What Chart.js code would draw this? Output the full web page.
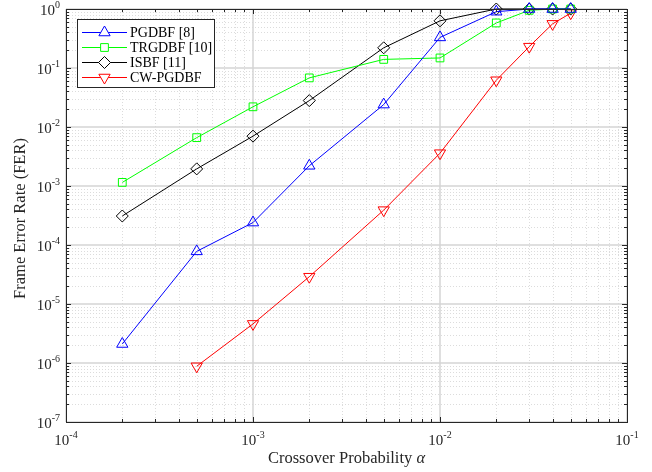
<!DOCTYPE html>
<html lang="en">
<head>
<meta charset="UTF-8">
<title>FER vs crossover probability</title>
<script src="https://cdn.jsdelivr.net/npm/chart.js"></script>
<style>
  body { margin: 0; background: #fff; }
  canvas { display: block; }
</style>
</head>
<body>
<canvas id="ferChart" width="652" height="472"></canvas>
<script>
// crossover probabilities (x axis)
const alphas = [2e-4, 5e-4, 1e-3, 2e-3, 5e-3, 1e-2, 2e-2, 3e-2, 4e-2, 5e-2];

// frame error rate per decoder
const pgdbf   = [2.1e-6, 7.8e-5, 2.4e-4, 2.2e-3, 2.4e-2, 0.33, 0.9, 1.0, 1.0, 1.0];
const trgdbf  = [1.15e-3, 6.6e-3, 2.2e-2, 6.8e-2, 0.14, 0.148, 0.58, 0.95, 1.0, 1.0];
const isbf    = [3.1e-4, 1.95e-3, 7.0e-3, 2.8e-2, 0.22, 0.63, 1.0, 1.0, 1.0, 1.0];
const cwpgdbf = [null, 8.8e-7, 4.6e-6, 2.9e-5, 3.9e-4, 3.6e-3, 0.062, 0.23, 0.56, 0.85];

const seriesNames = ['PGDBF [8]', 'TRGDBF [10]', 'ISBF [11]', 'CW-PGDBF'];
const xTickExps = [-4, -3, -2, -1];
const yTickExps = [0, -1, -2, -3, -4, -5, -6, -7];

const serif = "'Liberation Serif', 'Times New Roman', serif";

function toPoints(vals) {
    return alphas.map((a, i) => ({ x: a, y: vals[i] }));
}

const styles = [
    { color: '#0000ff', style: 'triangle', radius: 6.5, rot: 0 },
    { color: '#00ff00', style: 'rect', radius: 5.5, rot: 0 },
    { color: '#000000', style: 'rectRot', radius: 6, rot: 0 },
    { color: '#ff0000', style: 'triangle', radius: 6.5, rot: 180 }
];
const allSeries = [pgdbf, trgdbf, isbf, cwpgdbf];

const datasets = allSeries.map((vals, i) => ({
    label: seriesNames[i],
    data: toPoints(vals),
    borderColor: styles[i].color,
    backgroundColor: 'transparent',
    borderWidth: 1,
    pointStyle: styles[i].style,
    pointRadius: styles[i].radius,
    pointRotation: styles[i].rot,
    pointBorderColor: styles[i].color,
    pointBackgroundColor: 'transparent',
    pointBorderWidth: 1,
    tension: 0,
    clip: false
}));

// draws a "10^n" label
function drawPow(ctx, exp, x, y, align) {
    ctx.font = '15px ' + serif;
    const base = '10';
    const bw = ctx.measureText(base).width;
    ctx.font = '10px ' + serif;
    const ew = ctx.measureText(String(exp)).width;
    let left;
    if (align === 'right') left = x - bw - ew;
    else left = x - (bw + ew) / 2;
    ctx.textAlign = 'left';
    ctx.textBaseline = 'middle';
    ctx.font = '15px ' + serif;
    ctx.fillText(base, left, y);
    ctx.font = '10px ' + serif;
    ctx.fillText(String(exp), left + bw, y - 6);
}

const matlabAxes = {
    id: 'matlabAxes',
    beforeDatasetsDraw(chart) {
        const ctx = chart.ctx;
        const area = chart.chartArea;
        const xs = chart.scales.x, ys = chart.scales.y;
        ctx.save();
        // minor grid (dotted)
        ctx.strokeStyle = '#dcdcdc';
        ctx.lineWidth = 1;
        ctx.setLineDash([1, 2]);
        for (let e = -4; e < -1; e++) {
            for (let k = 2; k <= 9; k++) {
                const px = Math.round(xs.getPixelForValue(k * Math.pow(10, e))) + 0.5;
                ctx.beginPath(); ctx.moveTo(px, area.top); ctx.lineTo(px, area.bottom); ctx.stroke();
            }
        }
        for (let e = -7; e < 0; e++) {
            for (let k = 2; k <= 9; k++) {
                const py = Math.round(ys.getPixelForValue(k * Math.pow(10, e))) + 0.5;
                ctx.beginPath(); ctx.moveTo(area.left, py); ctx.lineTo(area.right, py); ctx.stroke();
            }
        }
        // major grid
        ctx.setLineDash([]);
        ctx.strokeStyle = '#d4d4d4';
        ctx.lineWidth = 1.5;
        xTickExps.forEach(e => {
            const px = xs.getPixelForValue(Math.pow(10, e));
            ctx.beginPath(); ctx.moveTo(px, area.top); ctx.lineTo(px, area.bottom); ctx.stroke();
        });
        yTickExps.forEach(e => {
            const py = ys.getPixelForValue(Math.pow(10, e));
            ctx.beginPath(); ctx.moveTo(area.left, py); ctx.lineTo(area.right, py); ctx.stroke();
        });
        ctx.restore();
    },
    afterDraw(chart) {
        const ctx = chart.ctx;
        const area = chart.chartArea;
        const xs = chart.scales.x, ys = chart.scales.y;
        ctx.save();
        ctx.strokeStyle = '#262626';
        ctx.lineWidth = 1;
        ctx.strokeRect(area.left + 0.5, area.top + 0.5, area.right - area.left, area.bottom - area.top);
        // ticks on all sides
        ctx.beginPath();
        for (let e = -4; e <= -1; e++) {
            for (let k = 1; k <= 9; k++) {
                const v = k * Math.pow(10, e);
                if (v > 0.1 + 1e-12) break;
                const px = Math.round(xs.getPixelForValue(v)) + 0.5;
                const len = k === 1 ? 5 : 3;
                ctx.moveTo(px, area.bottom); ctx.lineTo(px, area.bottom - len);
                ctx.moveTo(px, area.top); ctx.lineTo(px, area.top + len);
            }
        }
        for (let e = -7; e <= 0; e++) {
            for (let k = 1; k <= 9; k++) {
                const v = k * Math.pow(10, e);
                if (v > 1 + 1e-12) break;
                const py = Math.round(ys.getPixelForValue(v)) + 0.5;
                const len = k === 1 ? 5 : 3;
                ctx.moveTo(area.left, py); ctx.lineTo(area.left + len, py);
                ctx.moveTo(area.right, py); ctx.lineTo(area.right - len, py);
            }
        }
        ctx.stroke();

        // tick labels
        ctx.fillStyle = '#262626';
        xTickExps.forEach(e => {
            drawPow(ctx, e, xs.getPixelForValue(Math.pow(10, e)), area.bottom + 19, 'center');
        });
        yTickExps.forEach(e => {
            drawPow(ctx, e, area.left - 6, ys.getPixelForValue(Math.pow(10, e)) + 2, 'right');
        });

        // axis titles
        const tf = '16.5px ' + serif;
        ctx.font = tf;
        ctx.textBaseline = 'middle';
        const xt = 'Crossover Probability ';
        const w1 = ctx.measureText(xt).width;
        ctx.font = 'italic ' + tf;
        const w2 = ctx.measureText('\u03b1').width;
        const cx = (area.left + area.right) / 2;
        ctx.textAlign = 'left';
        ctx.font = tf;
        ctx.fillText(xt, cx - (w1 + w2) / 2, 459);
        ctx.font = 'italic ' + tf;
        ctx.fillText('\u03b1', cx - (w1 + w2) / 2 + w1, 459);

        ctx.save();
        ctx.translate(21, (area.top + area.bottom) / 2 + 3);
        ctx.rotate(-Math.PI / 2);
        ctx.textAlign = 'center';
        ctx.font = tf;
        ctx.fillText('Frame Error Rate (FER)', 0, 0);
        ctx.restore();

        // legend box
        const lx = 77, ly = 19, lw = 137, lh = 68;
        ctx.fillStyle = '#fff';
        ctx.fillRect(lx, ly, lw, lh);
        ctx.strokeStyle = '#262626';
        ctx.lineWidth = 1;
        ctx.strokeRect(lx + 0.5, ly + 0.5, lw, lh);
        seriesNames.forEach((name, i) => {
            const ry = ly + 13 + i * 15;
            const st = styles[i];
            ctx.strokeStyle = st.color;
            ctx.lineWidth = 1;
            ctx.beginPath(); ctx.moveTo(lx + 5, ry + 0.5); ctx.lineTo(lx + 50, ry + 0.5); ctx.stroke();
            ctx.fillStyle = '#fff';
            Chart.helpers.drawPoint(ctx, {
                pointStyle: st.style, radius: st.radius, rotation: st.rot, borderWidth: 1
            }, lx + 27.5, ry + 0.5);
            ctx.fillStyle = '#000';
            ctx.font = '14px ' + serif;
            ctx.textAlign = 'left';
            ctx.textBaseline = 'middle';
            ctx.fillText(name, lx + 53, ry + 1);
        });
        ctx.restore();
    }
};

const ctx = document.getElementById('ferChart').getContext('2d');
new Chart(ctx, {
    type: 'line',
    data: { datasets: datasets },
    options: {
        responsive: false,
        animation: false,
        layout: { padding: { left: 66, right: 25, top: 9, bottom: 50 } },
        scales: {
            x: { type: 'logarithmic', min: 1e-4, max: 1e-1, display: false },
            y: { type: 'logarithmic', min: 1e-7, max: 1, display: false }
        },
        plugins: {
            legend: { display: false },
            tooltip: { enabled: false }
        }
    },
    plugins: [matlabAxes]
});
</script>
</body>
</html>
